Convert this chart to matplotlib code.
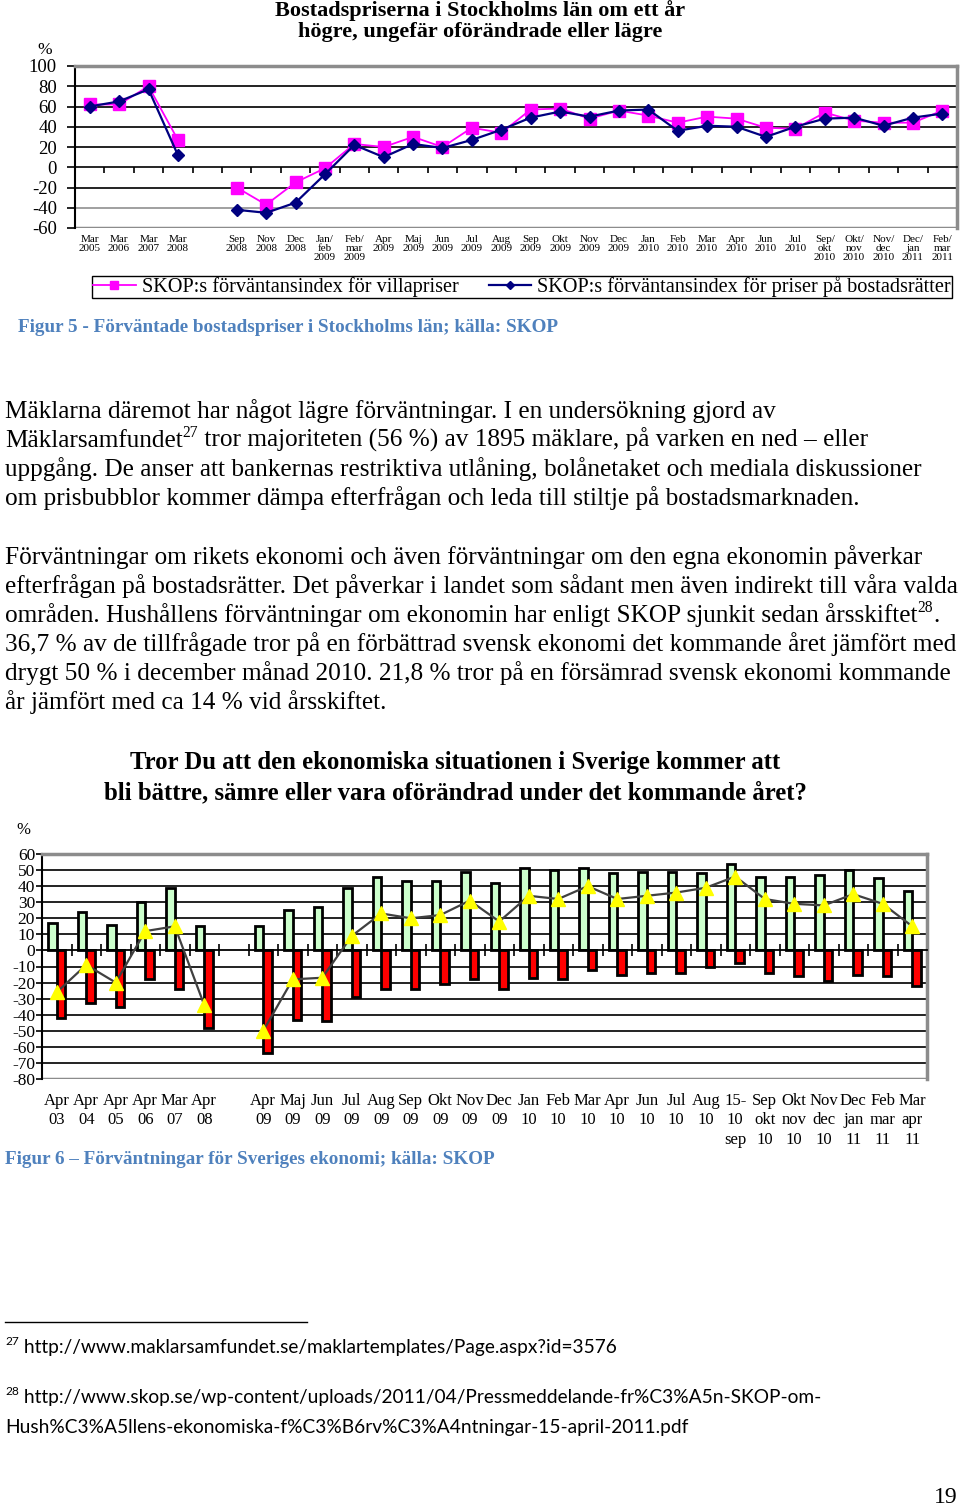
import matplotlib
matplotlib.use("Agg")
import matplotlib.pyplot as plt
from matplotlib.lines import Line2D
import numpy as np

nan = np.nan
W, H = 960, 1507
SERIF = "Liberation Serif"
CAPTION_BLUE = "#4F81BD"

# Figur 5: bostadspriser i Stockholms län
hus_labels = ["Mar\n2005", "Mar\n2006", "Mar\n2007", "Mar\n2008", "",
              "Sep\n2008", "Nov\n2008", "Dec\n2008", "Jan/\nfeb\n2009", "Feb/\nmar\n2009",
              "Apr\n2009", "Maj\n2009", "Jun\n2009", "Jul\n2009", "Aug\n2009",
              "Sep\n2009", "Okt\n2009", "Nov\n2009", "Dec\n2009", "Jan\n2010",
              "Feb\n2010", "Mar\n2010", "Apr\n2010", "Jun\n2010", "Jul\n2010",
              "Sep/\nokt\n2010", "Okt/\nnov\n2010", "Nov/\ndec\n2010", "Dec/\njan\n2011",
              "Feb/\nmar\n2011"]
villa = [62, 62, 80, 27, nan, -20, -37, -15, -1, 23, 20, 30, 20, 39, 34,
         57, 58, 48, 56, 51, 44, 50, 48, 39, 38, 54, 46, 44, 44, 56]
bostadsratt = [60, 65, 77, 12, nan, -42, -45, -35, -7, 22, 10, 23, 19, 27, 37,
               49, 55, 50, 56, 57, 36, 41, 40, 30, 40, 48, 49, 41, 49, 53]

# Figur 6: förväntningar för Sveriges ekonomi
eko_labels = ["Apr\n03", "Apr\n04", "Apr\n05", "Apr\n06", "Mar\n07", "Apr\n08", "",
              "Apr\n09", "Maj\n09", "Jun\n09", "Jul\n09", "Aug\n09", "Sep\n09", "Okt\n09",
              "Nov\n09", "Dec\n09", "Jan\n10", "Feb\n10", "Mar\n10", "Apr\n10", "Jun\n10",
              "Jul\n10", "Aug\n10", "15-\n10\nsep", "Sep\nokt\n10", "Okt\nnov\n10",
              "Nov\ndec\n10", "Dec\njan\n11", "Feb\nmar\n11", "Mar\napr\n11"]
battre = [17, 24, 16, 30, 39, 15, nan, 15, 25, 27, 39, 46, 43, 43, 49, 42,
          51, 50, 51, 48, 49, 49, 48, 54, 46, 46, 47, 50, 45, 37]
samre = [-42, -33, -35, -18, -24, -48, nan, -64, -43, -44, -29, -24, -24, -21, -18, -24,
         -17, -18, -12, -15, -14, -14, -10, -8, -14, -16, -19, -15, -16, -22]
netto = [-26, -9, -20, 12, 15, -34, nan, -50, -18, -17, 9, 23, 20, 22, 31, 18,
         34, 32, 40, 32, 34, 36, 39, 46, 32, 29, 28, 35, 29, 15]

para1 = [
    [("Mäklarna däremot har något lägre förväntningar. I en undersökning gjord av", 0)],
    [("Mäklarsamfundet", 0), ("27", 1),
     (" tror majoriteten (56 %) av 1895 mäklare, på varken en ned – eller", 0)],
    [("uppgång. De anser att bankernas restriktiva utlåning, bolånetaket och mediala diskussioner", 0)],
    [("om prisbubblor kommer dämpa efterfrågan och leda till stiltje på bostadsmarknaden.", 0)],
]
para2 = [
    [("Förväntningar om rikets ekonomi och även förväntningar om den egna ekonomin påverkar", 0)],
    [("efterfrågan på bostadsrätter. Det påverkar i landet som sådant men även indirekt till våra valda", 0)],
    [("områden. Hushållens förväntningar om ekonomin har enligt SKOP sjunkit sedan årsskiftet", 0),
     ("28", 1), (".", 0)],
    [("36,7 % av de tillfrågade tror på en förbättrad svensk ekonomi det kommande året jämfört med", 0)],
    [("drygt 50 % i december månad 2010. 21,8 % tror på en försämrad svensk ekonomi kommande", 0)],
    [("år jämfört med ca 14 % vid årsskiftet.", 0)],
]

fig = plt.figure(figsize=(W / 100, H / 100), dpi=100)
fig.patch.set_facecolor("white")
renderer = fig.canvas.get_renderer()


def px_axes(l, t, r, b):
    return fig.add_axes([l / W, 1 - b / H, (r - l) / W, (b - t) / H])


def ftext(x, y, s, **kw):
    return fig.text(x / W, 1 - y / H, s, **kw)


def text_line(x, y, runs, size, family=SERIF):
    # draws a line of text, superscript runs raised and smaller
    for s, sup in runs:
        if sup:
            t = ftext(x, y - size * 0.55, s, fontsize=size * 0.62, family=family, va="baseline")
        else:
            t = ftext(x, y, s, fontsize=size, family=family, va="baseline")
        x += t.get_window_extent(renderer).width


# ---------------- Figur 5 ----------------
ftext(480, 11, "Bostadspriserna i Stockholms län om ett år", ha="center", va="center",
      fontsize=16, fontweight="bold", family=SERIF)
ftext(480, 32, "högre, ungefär oförändrade eller lägre", ha="center", va="center",
      fontsize=16, fontweight="bold", family=SERIF)

ax1 = px_axes(75, 66, 957, 228)
x1 = np.arange(len(hus_labels))
for v in [80, 60, 40, 20, -20]:
    ax1.axhline(v, color="#111111", lw=1.3, zorder=1)
ax1.axhline(-40, color="#999999", lw=1.3, zorder=1)
ax1.axhline(-60, color="#8c8c8c", lw=2.5, zorder=1)
ln_v, = ax1.plot(x1, villa, color="#FF00FF", lw=1.3, marker="s", ms=8.5,
                 mec="#FF00FF", mfc="#FF00FF", zorder=3)
ln_b, = ax1.plot(x1, bostadsratt, color="#000080", lw=1.6, marker="D", ms=6,
                 mec="#000080", mfc="#000080", zorder=4)
ax1.set_xlim(-0.5, len(hus_labels) - 0.5)
ax1.set_ylim(-60, 100)
ax1.set_yticks(np.arange(-60, 101, 20))
ax1.set_yticklabels([str(v) for v in range(-60, 101, 20)], family=SERIF, fontsize=13.5)
ax1.tick_params(axis="y", length=6, width=1.2, color="black", pad=7)
ax1.spines["bottom"].set_position(("data", 0))
ax1.spines["bottom"].set_linewidth(1.2)
ax1.set_xticks(np.arange(0.5, len(hus_labels) - 1, 1))
ax1.tick_params(axis="x", direction="out", length=4, width=1.2, labelbottom=False)
ax1.spines["left"].set_linewidth(1.5)
for s in ["top", "right"]:
    ax1.spines[s].set_color("#8c8c8c")
    ax1.spines[s].set_linewidth(2.5)
for i, lab in enumerate(hus_labels):
    ax1.annotate(lab, xy=(i, 0), xycoords=("data", "axes fraction"), xytext=(0, -5),
                 textcoords="offset points", ha="center", va="top", fontsize=8,
                 family=SERIF, linespacing=1.02)
ftext(45, 50, "%", ha="center", va="center", fontsize=12.5, family=SERIF)

fig.legend([ln_v, ln_b],
           ["SKOP:s förväntansindex för villapriser",
            "SKOP:s förväntansindex för priser på bostadsrätter"],
           loc="center", bbox_to_anchor=(522 / W, 1 - 287 / H), ncol=2,
           frameon=True, fancybox=False, edgecolor="black", framealpha=1,
           prop={"family": SERIF, "size": 14.6}, handlelength=2.1,
           columnspacing=1.5, borderpad=0.05, handletextpad=0.3, markerscale=0.75,
           borderaxespad=0)

ftext(18, 328, "Figur 5 - Förväntade bostadspriser i Stockholms län; källa: SKOP",
      va="center", fontsize=13.75, fontweight="bold", color=CAPTION_BLUE, family=SERIF)

# ---------------- text ----------------
PSIZE = 18.2
for k, runs in enumerate(para1):
    text_line(5, 418 + 29 * k, runs, PSIZE)
for k, runs in enumerate(para2):
    text_line(5, 564 + 29 * k, runs, PSIZE)

# ---------------- Figur 6 ----------------
ftext(455, 763, "Tror Du att den ekonomiska situationen i Sverige kommer att",
      ha="center", va="center", fontsize=17.8, fontweight="bold", family=SERIF)
ftext(455, 793, "bli bättre, sämre eller vara oförändrad under det kommande året?",
      ha="center", va="center", fontsize=17.8, fontweight="bold", family=SERIF)

ax2 = px_axes(42, 854, 927, 1079)
x2 = np.arange(len(eko_labels))
for v in range(-70, 60, 10):
    if v != 0:
        ax2.axhline(v, color="#111111", lw=1.3, zorder=1)
ax2.axhline(-80, color="#8c8c8c", lw=2.5, zorder=1)
bw = 0.28
ax2.bar(x2 - bw / 2, battre, width=bw, color="#CCFFCC", edgecolor="black", lw=2, zorder=2)
ax2.bar(x2 + bw / 2, samre, width=bw, color="#FF0000", edgecolor="black", lw=2, zorder=2)
ax2.plot(x2, netto, color="#404040", lw=1.6, marker="^", ms=10, mfc="#FFFF00",
         mec="#FFFF00", zorder=4)
ax2.set_xlim(-0.5, len(eko_labels) - 0.5)
ax2.set_ylim(-80, 60)
ax2.set_yticks(np.arange(-80, 61, 10))
ax2.set_yticklabels([str(v) for v in range(-80, 61, 10)], family=SERIF, fontsize=12.5)
ax2.tick_params(axis="y", length=4, width=1.2, pad=1)
ax2.spines["bottom"].set_position(("data", 0))
ax2.spines["bottom"].set_linewidth(1.3)
ax2.spines["bottom"].set_zorder(3)
ax2.set_xticks(np.arange(0.5, len(eko_labels) - 1, 1))
ax2.tick_params(axis="x", direction="inout", length=8, width=1.2, labelbottom=False)
ax2.spines["left"].set_linewidth(1.5)
for s in ["top", "right"]:
    ax2.spines[s].set_color("#8c8c8c")
    ax2.spines[s].set_linewidth(2.5)
for i, lab in enumerate(eko_labels):
    ax2.annotate(lab, xy=(i, 0), xycoords=("data", "axes fraction"), xytext=(0, -10),
                 textcoords="offset points", ha="center", va="top", fontsize=12,
                 family=SERIF, linespacing=1.3)
ftext(23, 830, "%", ha="center", va="center", fontsize=12, family=SERIF)

ftext(5, 1160, "Figur 6 – Förväntningar för Sveriges ekonomi; källa: SKOP",
      va="center", fontsize=13.75, fontweight="bold", color=CAPTION_BLUE, family=SERIF)

# ---------------- footnotes ----------------
fig.add_artist(Line2D([5 / W, 307 / W], [1 - 1322 / H, 1 - 1322 / H], color="black", lw=1))
FSIZE = 13.8
text_line(5, 1353, [("27", 1), (" http://www.maklarsamfundet.se/maklartemplates/Page.aspx?id=3576", 0)],
          FSIZE, family="Lato")
text_line(5, 1403, [("28", 1), (" http://www.skop.se/wp-content/uploads/2011/04/Pressmeddelande-fr%C3%A5n-SKOP-om-", 0)],
          FSIZE, family="Lato")
text_line(5, 1433, [("Hush%C3%A5llens-ekonomiska-f%C3%B6rv%C3%A4ntningar-15-april-2011.pdf", 0)],
          FSIZE, family="Lato")
ftext(958, 1503, "19", ha="right", va="baseline", fontsize=17, family=SERIF)

fig.savefig("out.png", dpi=100, facecolor="white")
